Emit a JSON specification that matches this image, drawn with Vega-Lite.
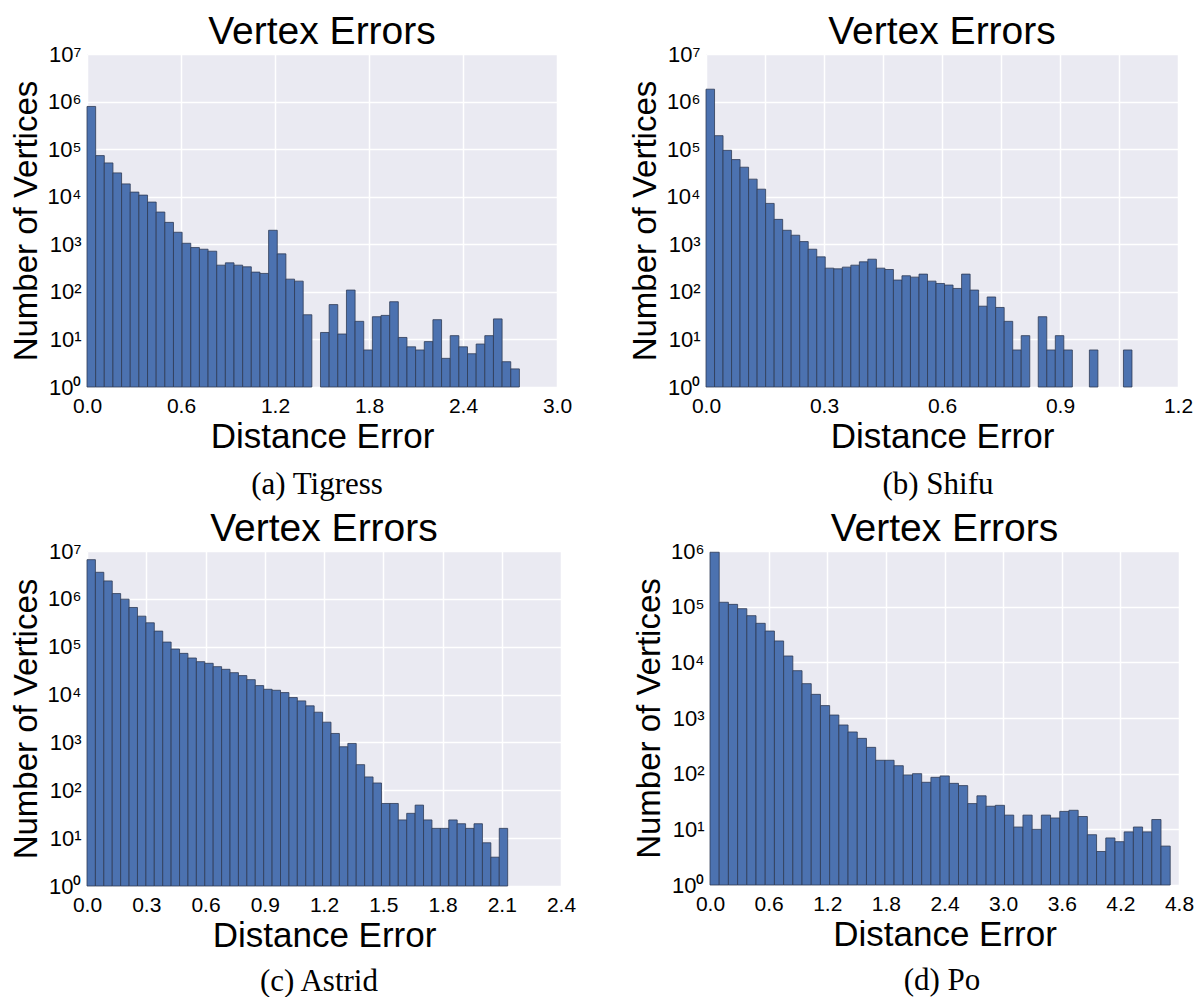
{
  "$schema": "https://vega.github.io/schema/vega-lite/v6.json",
  "padding": {"left": 10, "top": 13, "right": 0, "bottom": 0},
  "spacing": 10,
  "config": {
    "view": {"fill": "#EAEAF2", "stroke": null},
    "axis": {
      "domain": false, "ticks": false, "gridColor": "#ffffff", "gridWidth": 1.5, "gridOpacity": 1,
      "labelFont": "Liberation Sans", "labelFontSize": 21, "labelColor": "#000000",
      "titleFont": "Liberation Sans", "titleFontSize": 35, "titleFontWeight": "normal", "titleColor": "#000000",
      "labelOverlap": false
    },
    "axisX": {"labelFlush": false, "labelPadding": 8, "titlePadding": 3},
    "axisY": {"labelPadding": 6, "titlePadding": 4, "labelFontSize": 22, "titleFontSize": 33},
    "title": {"font": "Liberation Sans", "fontSize": 39, "fontWeight": "normal", "color": "#000000"},
    "rect": {"fill": "#4C72B0", "stroke": "#2f3b55", "strokeWidth": 0.8}
  },
  "datasets": {
    "tigress": [
      {"a": 0, "b": 0.0552, "n": 789000}, {"a": 0.0552, "b": 0.1104, "n": 73100}, {"a": 0.1104, "b": 0.1656, "n": 51300},
      {"a": 0.1656, "b": 0.2208, "n": 31700}, {"a": 0.2208, "b": 0.276, "n": 18600}, {"a": 0.276, "b": 0.3312, "n": 12500},
      {"a": 0.3312, "b": 0.3864, "n": 10800}, {"a": 0.3864, "b": 0.4416, "n": 7710}, {"a": 0.4416, "b": 0.4968, "n": 4760},
      {"a": 0.4968, "b": 0.552, "n": 2890}, {"a": 0.552, "b": 0.6072, "n": 1790}, {"a": 0.6072, "b": 0.6624, "n": 1050},
      {"a": 0.6624, "b": 0.7176, "n": 853}, {"a": 0.7176, "b": 0.7728, "n": 787}, {"a": 0.7728, "b": 0.828, "n": 715},
      {"a": 0.828, "b": 0.8832, "n": 364}, {"a": 0.8832, "b": 0.9384, "n": 407}, {"a": 0.9384, "b": 0.9936, "n": 364},
      {"a": 0.9936, "b": 1.0488, "n": 336}, {"a": 1.0488, "b": 1.104, "n": 260}, {"a": 1.104, "b": 1.1592, "n": 244},
      {"a": 1.1592, "b": 1.2144, "n": 1970}, {"a": 1.2144, "b": 1.2696, "n": 629}, {"a": 1.2696, "b": 1.3248, "n": 185},
      {"a": 1.3248, "b": 1.38, "n": 168}, {"a": 1.38, "b": 1.4352, "n": 33},
      {"a": 1.4904, "b": 1.5456, "n": 14}, {"a": 1.5456, "b": 1.6008, "n": 54}, {"a": 1.6008, "b": 1.656, "n": 13},
      {"a": 1.656, "b": 1.7112, "n": 109}, {"a": 1.7112, "b": 1.7664, "n": 24}, {"a": 1.7664, "b": 1.8216, "n": 6},
      {"a": 1.8216, "b": 1.8768, "n": 30}, {"a": 1.8768, "b": 1.932, "n": 32}, {"a": 1.932, "b": 1.9872, "n": 62},
      {"a": 1.9872, "b": 2.0424, "n": 11}, {"a": 2.0424, "b": 2.0976, "n": 7}, {"a": 2.0976, "b": 2.1528, "n": 6},
      {"a": 2.1528, "b": 2.208, "n": 9}, {"a": 2.208, "b": 2.2632, "n": 26}, {"a": 2.2632, "b": 2.3184, "n": 4},
      {"a": 2.3184, "b": 2.3736, "n": 12}, {"a": 2.3736, "b": 2.4288, "n": 7}, {"a": 2.4288, "b": 2.484, "n": 5},
      {"a": 2.484, "b": 2.5392, "n": 8}, {"a": 2.5392, "b": 2.5944, "n": 12}, {"a": 2.5944, "b": 2.6496, "n": 27},
      {"a": 2.6496, "b": 2.7048, "n": 3.4}, {"a": 2.7048, "b": 2.76, "n": 2.4}
    ],
    "shifu": [
      {"a": 0, "b": 0.0217, "n": 1820000}, {"a": 0.0217, "b": 0.0433, "n": 192000}, {"a": 0.0433, "b": 0.065, "n": 94600},
      {"a": 0.065, "b": 0.0866, "n": 60300}, {"a": 0.0866, "b": 0.1083, "n": 41700}, {"a": 0.1083, "b": 0.13, "n": 23400},
      {"a": 0.13, "b": 0.1516, "n": 14400}, {"a": 0.1516, "b": 0.1733, "n": 7230}, {"a": 0.1733, "b": 0.1949, "n": 3340},
      {"a": 0.1949, "b": 0.2166, "n": 1970}, {"a": 0.2166, "b": 0.2383, "n": 1550}, {"a": 0.2383, "b": 0.2599, "n": 1140},
      {"a": 0.2599, "b": 0.2816, "n": 787}, {"a": 0.2816, "b": 0.3032, "n": 544}, {"a": 0.3032, "b": 0.3249, "n": 315},
      {"a": 0.3249, "b": 0.3466, "n": 305}, {"a": 0.3466, "b": 0.3682, "n": 331}, {"a": 0.3682, "b": 0.3899, "n": 364},
      {"a": 0.3899, "b": 0.4115, "n": 428}, {"a": 0.4115, "b": 0.4332, "n": 486}, {"a": 0.4332, "b": 0.4549, "n": 315},
      {"a": 0.4549, "b": 0.4765, "n": 295}, {"a": 0.4765, "b": 0.4982, "n": 177}, {"a": 0.4982, "b": 0.5198, "n": 218},
      {"a": 0.5198, "b": 0.5415, "n": 204}, {"a": 0.5415, "b": 0.5632, "n": 236}, {"a": 0.5632, "b": 0.5848, "n": 168},
      {"a": 0.5848, "b": 0.6065, "n": 150}, {"a": 0.6065, "b": 0.6281, "n": 139}, {"a": 0.6281, "b": 0.6498, "n": 118},
      {"a": 0.6498, "b": 0.6715, "n": 236}, {"a": 0.6715, "b": 0.6931, "n": 109}, {"a": 0.6931, "b": 0.7148, "n": 50},
      {"a": 0.7148, "b": 0.7364, "n": 78}, {"a": 0.7364, "b": 0.7581, "n": 47}, {"a": 0.7581, "b": 0.7798, "n": 24},
      {"a": 0.7798, "b": 0.8014, "n": 6}, {"a": 0.8014, "b": 0.8231, "n": 12},
      {"a": 0.8447, "b": 0.8664, "n": 30}, {"a": 0.8664, "b": 0.8881, "n": 6}, {"a": 0.8881, "b": 0.9097, "n": 12},
      {"a": 0.9097, "b": 0.9314, "n": 6}, {"a": 0.9747, "b": 0.9964, "n": 6}, {"a": 1.0613, "b": 1.083, "n": 6}
    ],
    "astrid": [
      {"a": 0, "b": 0.0426, "n": 6590000}, {"a": 0.0426, "b": 0.0852, "n": 3590000}, {"a": 0.0852, "b": 0.1278, "n": 2370000},
      {"a": 0.1278, "b": 0.1704, "n": 1290000}, {"a": 0.1704, "b": 0.213, "n": 985000}, {"a": 0.213, "b": 0.2556, "n": 660000},
      {"a": 0.2556, "b": 0.2982, "n": 435000}, {"a": 0.2982, "b": 0.3408, "n": 316000}, {"a": 0.3408, "b": 0.3834, "n": 212000},
      {"a": 0.3834, "b": 0.426, "n": 125000}, {"a": 0.426, "b": 0.4686, "n": 89400}, {"a": 0.4686, "b": 0.5112, "n": 72600},
      {"a": 0.5112, "b": 0.5538, "n": 58100}, {"a": 0.5538, "b": 0.5964, "n": 48700}, {"a": 0.5964, "b": 0.639, "n": 45000},
      {"a": 0.639, "b": 0.6816, "n": 38300}, {"a": 0.6816, "b": 0.7242, "n": 33700}, {"a": 0.7242, "b": 0.7668, "n": 28700},
      {"a": 0.7668, "b": 0.8094, "n": 24900}, {"a": 0.8094, "b": 0.852, "n": 20500}, {"a": 0.852, "b": 0.8946, "n": 15400},
      {"a": 0.8946, "b": 0.9372, "n": 12900}, {"a": 0.9372, "b": 0.9798, "n": 12300}, {"a": 0.9798, "b": 1.0224, "n": 11000},
      {"a": 1.0224, "b": 1.065, "n": 8660}, {"a": 1.065, "b": 1.1076, "n": 7380}, {"a": 1.1076, "b": 1.1502, "n": 5810},
      {"a": 1.1502, "b": 1.1928, "n": 4280}, {"a": 1.1928, "b": 1.2354, "n": 2650}, {"a": 1.2354, "b": 1.278, "n": 1540},
      {"a": 1.278, "b": 1.3206, "n": 812}, {"a": 1.3206, "b": 1.3632, "n": 953}, {"a": 1.3632, "b": 1.4058, "n": 343},
      {"a": 1.4058, "b": 1.4484, "n": 190}, {"a": 1.4484, "b": 1.491, "n": 142}, {"a": 1.491, "b": 1.5336, "n": 53},
      {"a": 1.5336, "b": 1.5762, "n": 53}, {"a": 1.5762, "b": 1.6188, "n": 24}, {"a": 1.6188, "b": 1.6614, "n": 33},
      {"a": 1.6614, "b": 1.704, "n": 49}, {"a": 1.704, "b": 1.7466, "n": 24}, {"a": 1.7466, "b": 1.7892, "n": 16},
      {"a": 1.7892, "b": 1.8318, "n": 16}, {"a": 1.8318, "b": 1.8744, "n": 24}, {"a": 1.8744, "b": 1.917, "n": 20},
      {"a": 1.917, "b": 1.9596, "n": 16}, {"a": 1.9596, "b": 2.0022, "n": 20}, {"a": 2.0022, "b": 2.0448, "n": 8},
      {"a": 2.0448, "b": 2.0874, "n": 4}, {"a": 2.0874, "b": 2.13, "n": 16}
    ],
    "po": [
      {"a": 0, "b": 0.0942, "n": 950000}, {"a": 0.0942, "b": 0.1884, "n": 120000}, {"a": 0.1884, "b": 0.2826, "n": 110000},
      {"a": 0.2826, "b": 0.3768, "n": 92000}, {"a": 0.3768, "b": 0.471, "n": 68900}, {"a": 0.471, "b": 0.5652, "n": 50200},
      {"a": 0.5652, "b": 0.6594, "n": 36500}, {"a": 0.6594, "b": 0.7536, "n": 24200}, {"a": 0.7536, "b": 0.8478, "n": 13000},
      {"a": 0.8478, "b": 0.942, "n": 7080}, {"a": 0.942, "b": 1.0362, "n": 4140}, {"a": 1.0362, "b": 1.1304, "n": 2660},
      {"a": 1.1304, "b": 1.2246, "n": 1670}, {"a": 1.2246, "b": 1.3188, "n": 1130}, {"a": 1.3188, "b": 1.413, "n": 749},
      {"a": 1.413, "b": 1.5072, "n": 561}, {"a": 1.5072, "b": 1.6014, "n": 431}, {"a": 1.6014, "b": 1.6956, "n": 297},
      {"a": 1.6956, "b": 1.7898, "n": 174}, {"a": 1.7898, "b": 1.884, "n": 174}, {"a": 1.884, "b": 1.9782, "n": 139},
      {"a": 1.9782, "b": 2.0724, "n": 95}, {"a": 2.0724, "b": 2.1666, "n": 100}, {"a": 2.1666, "b": 2.2608, "n": 70},
      {"a": 2.2608, "b": 2.355, "n": 86}, {"a": 2.355, "b": 2.4492, "n": 91}, {"a": 2.4492, "b": 2.5434, "n": 67},
      {"a": 2.5434, "b": 2.6376, "n": 61}, {"a": 2.6376, "b": 2.7318, "n": 29}, {"a": 2.7318, "b": 2.826, "n": 40},
      {"a": 2.826, "b": 2.9202, "n": 26}, {"a": 2.9202, "b": 3.0144, "n": 27}, {"a": 3.0144, "b": 3.1086, "n": 18},
      {"a": 3.1086, "b": 3.2028, "n": 11}, {"a": 3.2028, "b": 3.297, "n": 18}, {"a": 3.297, "b": 3.3912, "n": 10},
      {"a": 3.3912, "b": 3.4854, "n": 18}, {"a": 3.4854, "b": 3.5796, "n": 16}, {"a": 3.5796, "b": 3.6738, "n": 21},
      {"a": 3.6738, "b": 3.768, "n": 22}, {"a": 3.768, "b": 3.8622, "n": 17}, {"a": 3.8622, "b": 3.9564, "n": 8},
      {"a": 3.9564, "b": 4.0506, "n": 4}, {"a": 4.0506, "b": 4.1448, "n": 7}, {"a": 4.1448, "b": 4.239, "n": 6},
      {"a": 4.239, "b": 4.3332, "n": 9}, {"a": 4.3332, "b": 4.4274, "n": 11}, {"a": 4.4274, "b": 4.5216, "n": 9},
      {"a": 4.5216, "b": 4.6158, "n": 15}, {"a": 4.6158, "b": 4.71, "n": 5}
    ]
  },
  "vconcat": [
    {
      "spacing": 57,
      "hconcat": [
        {
          "title": {"text": "(a) Tigress", "orient": "bottom", "anchor": "middle", "frame": "group", "dx": 230, "font": "Liberation Serif", "fontSize": 31, "offset": 16},
          "vconcat": [{
            "title": {"text": "Vertex Errors", "frame": "group", "offset": -9},
            "width": 470, "height": 333,
            "data": {"name": "tigress"},
            "mark": {"type": "rect"},
            "encoding": {
              "x": {"field": "a", "type": "quantitative", "scale": {"domain": [0, 3], "nice": false, "zero": false},
                    "axis": {"values": [0, 0.6, 1.2, 1.8, 2.4, 3.0], "format": ".1f", "title": "Distance Error"}},
              "x2": {"field": "b"},
              "y": {"field": "n", "type": "quantitative", "scale": {"type": "log", "domain": [1, 10000000], "nice": false},
                    "axis": {"values": [1, 10, 100, 1000, 10000, 100000, 1000000, 10000000], "title": "Number of Vertices",
                             "labelExpr": "'10' + ['⁰','¹','²','³','⁴','⁵','⁶','⁷'][round(log(datum.value)/LN10)]"}},
              "y2": {"datum": 1}
            }
          }]
        },
        {
          "title": {"text": "(b) Shifu", "orient": "bottom", "anchor": "middle", "frame": "group", "dx": 232, "font": "Liberation Serif", "fontSize": 31, "offset": 16},
          "vconcat": [{
            "title": {"text": "Vertex Errors", "frame": "group", "offset": -9},
            "width": 472, "height": 333,
            "data": {"name": "shifu"},
            "mark": {"type": "rect"},
            "encoding": {
              "x": {"field": "a", "type": "quantitative", "scale": {"domain": [0, 1.2], "nice": false, "zero": false},
                    "axis": {"values": [0, 0.15, 0.3, 0.45, 0.6, 0.75, 0.9, 1.05, 1.2], "title": "Distance Error",
                             "labelExpr": "round(datum.value*100) % 30 == 0 ? format(datum.value, '.1f') : ''"}},
              "x2": {"field": "b"},
              "y": {"field": "n", "type": "quantitative", "scale": {"type": "log", "domain": [1, 10000000], "nice": false},
                    "axis": {"values": [1, 10, 100, 1000, 10000, 100000, 1000000, 10000000], "title": "Number of Vertices",
                             "labelExpr": "'10' + ['⁰','¹','²','³','⁴','⁵','⁶','⁷'][round(log(datum.value)/LN10)]"}},
              "y2": {"datum": 1}
            }
          }]
        }
      ]
    },
    {
      "spacing": 57,
      "hconcat": [
        {
          "title": {"text": "(c) Astrid", "orient": "bottom", "anchor": "middle", "frame": "group", "dx": 232, "font": "Liberation Serif", "fontSize": 31, "offset": 14},
          "vconcat": [{
            "title": {"text": "Vertex Errors", "frame": "group", "offset": -9},
            "width": 474, "height": 335,
            "data": {"name": "astrid"},
            "mark": {"type": "rect"},
            "encoding": {
              "x": {"field": "a", "type": "quantitative", "scale": {"domain": [0, 2.4], "nice": false, "zero": false},
                    "axis": {"values": [0, 0.3, 0.6, 0.9, 1.2, 1.5, 1.8, 2.1, 2.4], "format": ".1f", "title": "Distance Error"}},
              "x2": {"field": "b"},
              "y": {"field": "n", "type": "quantitative", "scale": {"type": "log", "domain": [1, 10000000], "nice": false},
                    "axis": {"values": [1, 10, 100, 1000, 10000, 100000, 1000000, 10000000], "title": "Number of Vertices",
                             "labelExpr": "'10' + ['⁰','¹','²','³','⁴','⁵','⁶','⁷'][round(log(datum.value)/LN10)]"}},
              "y2": {"datum": 1}
            }
          }]
        },
        {
          "title": {"text": "(d) Po", "orient": "bottom", "anchor": "middle", "frame": "group", "dx": 232, "font": "Liberation Serif", "fontSize": 31, "offset": 14},
          "vconcat": [{
            "title": {"text": "Vertex Errors", "frame": "group", "offset": -9},
            "width": 469, "height": 334,
            "data": {"name": "po"},
            "mark": {"type": "rect"},
            "encoding": {
              "x": {"field": "a", "type": "quantitative", "scale": {"domain": [0, 4.8], "nice": false, "zero": false},
                    "axis": {"values": [0, 0.6, 1.2, 1.8, 2.4, 3.0, 3.6, 4.2, 4.8], "format": ".1f", "title": "Distance Error"}},
              "x2": {"field": "b"},
              "y": {"field": "n", "type": "quantitative", "scale": {"type": "log", "domain": [1, 1000000], "nice": false},
                    "axis": {"values": [1, 10, 100, 1000, 10000, 100000, 1000000], "title": "Number of Vertices",
                             "labelExpr": "'10' + ['⁰','¹','²','³','⁴','⁵','⁶','⁷'][round(log(datum.value)/LN10)]"}},
              "y2": {"datum": 1}
            }
          }]
        }
      ]
    }
  ]
}
